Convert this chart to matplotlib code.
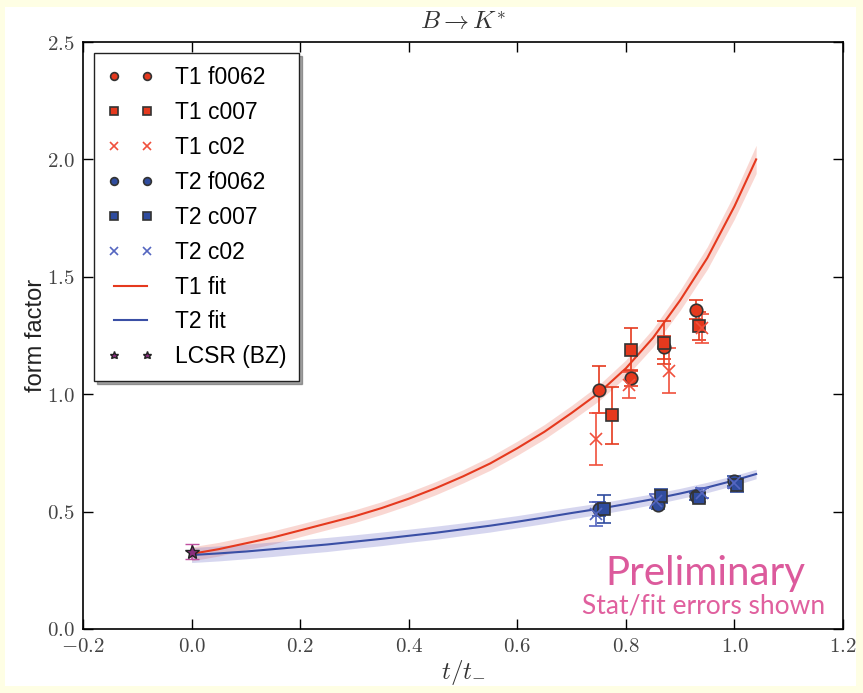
import matplotlib
matplotlib.use('Agg')
import matplotlib.pyplot as plt
import numpy as np
from matplotlib.ticker import FuncFormatter
from matplotlib.patches import Rectangle

plt.rcParams['mathtext.fontset'] = 'cm'
plt.rcParams['font.family'] = ['Liberation Sans', 'DejaVu Sans']

# fit curves
fit_x = [0.0, 0.05, 0.1, 0.15, 0.2, 0.25, 0.3, 0.35, 0.4, 0.45, 0.5, 0.55,
         0.6, 0.65, 0.7, 0.75, 0.8, 0.85, 0.9, 0.95, 1.0, 1.04]
t1_fit = [0.32, 0.34, 0.365, 0.39, 0.42, 0.45, 0.48, 0.515, 0.555, 0.60, 0.65, 0.705,
          0.77, 0.84, 0.92, 1.005, 1.11, 1.24, 1.40, 1.58, 1.80, 2.00]
t1_band = [0.03, 0.029, 0.028, 0.028, 0.027, 0.027, 0.027, 0.027, 0.028, 0.028, 0.028, 0.029,
           0.03, 0.031, 0.032, 0.034, 0.036, 0.039, 0.043, 0.048, 0.054, 0.06]
t2_fit = [0.315, 0.322, 0.33, 0.34, 0.35, 0.36, 0.372, 0.384, 0.397, 0.41, 0.425, 0.44,
          0.457, 0.475, 0.494, 0.512, 0.532, 0.553, 0.577, 0.603, 0.633, 0.66]
t2_band = [0.032, 0.032, 0.031, 0.031, 0.03, 0.03, 0.029, 0.029, 0.028, 0.028, 0.027, 0.027,
           0.026, 0.026, 0.025, 0.024, 0.024, 0.023, 0.022, 0.022, 0.021, 0.02]

# T1 data
t1_f_x = [0.75, 0.81, 0.87, 0.93]
t1_f_y = [1.02, 1.07, 1.20, 1.36]
t1_f_e = [0.10, 0.035, 0.05, 0.04]
t1_c7_x = [0.775, 0.81, 0.87, 0.935]
t1_c7_y = [0.91, 1.19, 1.22, 1.29]
t1_c7_e = [0.12, 0.09, 0.09, 0.06]
t1_c2_x = [0.745, 0.805, 0.88, 0.94]
t1_c2_y = [0.81, 1.04, 1.10, 1.28]
t1_c2_e = [0.11, 0.055, 0.095, 0.06]

# T2 data
t2_f_x = [0.75, 0.86, 0.93, 1.0]
t2_f_y = [0.51, 0.53, 0.565, 0.63]
t2_f_e = [0.03, 0.02, 0.015, 0.02]
t2_c7_x = [0.76, 0.865, 0.935, 1.005]
t2_c7_y = [0.51, 0.565, 0.56, 0.615]
t2_c7_e = [0.06, 0.03, 0.02, 0.03]
t2_c2_x = [0.745, 0.855, 0.94, 1.0]
t2_c2_y = [0.49, 0.545, 0.58, 0.62]
t2_c2_e = [0.05, 0.03, 0.02, 0.02]

# LCSR
lcsr_x = [0.0]
lcsr_y = [0.33]
lcsr_e = [0.03]

red = '#E5391E'
red_light = '#F0503C'
blue = '#2F4C9E'
blue_light = '#5566C0'

fig = plt.figure(figsize=(8.63, 6.93), dpi=100, facecolor='#FEFEE4')
fig.patches.append(Rectangle((5 / 863, 7 / 693), 851 / 863, 679 / 693, transform=fig.transFigure,
                             facecolor='white', edgecolor='none', zorder=-10))
ax = fig.add_axes([83 / 863, 64 / 693, 760 / 863, 587 / 693])

fx = np.array(fit_x)
ax.fill_between(fx, np.array(t1_fit) - t1_band, np.array(t1_fit) + t1_band, color=red, alpha=0.2, lw=0)
ax.fill_between(fx, np.array(t2_fit) - t2_band, np.array(t2_fit) + t2_band, color='#6E6EC8', alpha=0.28, lw=0)
l_t1, = ax.plot(fx, t1_fit, color=red, lw=1.5, label='T1 fit')
l_t2, = ax.plot(fx, t2_fit, color='#3A4FA5', lw=1.5, label='T2 fit')

def series(x, y, e, marker, color, label, ms=9, mec='#333333'):
    c = ax.errorbar(x, y, yerr=e, fmt=marker, color=color, ecolor=color, ms=ms,
                    mec=mec, mew=1.2, capsize=5, elinewidth=1.2, capthick=1.2, zorder=3)
    c[0].set_label(label)
    return c[0]

h = []
h.append(series(t1_f_x, t1_f_y, t1_f_e, 'o', red, 'T1 f0062'))
h.append(series(t1_c7_x, t1_c7_y, t1_c7_e, 's', red, 'T1 c007'))
h.append(series(t1_c2_x, t1_c2_y, t1_c2_e, 'x', red_light, 'T1 c02', mec=red_light))
h.append(series(t2_f_x, t2_f_y, t2_f_e, 'o', blue, 'T2 f0062'))
h.append(series(t2_c7_x, t2_c7_y, t2_c7_e, 's', blue, 'T2 c007'))
h.append(series(t2_c2_x, t2_c2_y, t2_c2_e, 'x', blue_light, 'T2 c02', mec=blue_light))
h.append(l_t1)
h.append(l_t2)
lc = ax.errorbar(lcsr_x, lcsr_y, yerr=lcsr_e, fmt='*', color='#8A2C7E', ecolor='#C050A0', ms=10,
                 mec='#222222', mew=1.0, capsize=5, elinewidth=1.2, capthick=1.2, zorder=4)
lc[0].set_label('LCSR (BZ)')
h.append(lc[0])

leg = ax.legend(handles=h, loc='upper left', numpoints=2, markerscale=0.62, fontsize=16.5,
                labelspacing=0.52, handlelength=2.05, handletextpad=0.9, borderpad=0.55,
                borderaxespad=0.5, fancybox=False, shadow=True,
                edgecolor='#222222', framealpha=1)
leg.get_frame().set_linewidth(1.0)

ax.set_xlim(-0.2, 1.2)
ax.set_ylim(0.0, 2.5)
ax.set_xticks(np.arange(-0.2, 1.21, 0.2))
ax.set_yticks(np.arange(0.0, 2.51, 0.5))
fmt = FuncFormatter(lambda v, p: '$%.1f$' % v)
ax.xaxis.set_major_formatter(fmt)
ax.yaxis.set_major_formatter(fmt)
ax.tick_params(direction='in', top=True, right=True, length=7, width=1, labelsize=15,
               labelcolor='#444444', pad=6)
for s in ax.spines.values():
    s.set_linewidth(1.2)

ax.set_title(r'$B \rightarrow K^{*}$', fontsize=18, pad=9, color='#333333')
ax.set_xlabel(r'$t/t_{-}$', fontsize=18, color='#333333', labelpad=1)
ax.set_ylabel('form factor', fontsize=17, color='#222222', labelpad=0)

ax.text(0.947, 0.187, 'Preliminary', fontsize=29, color='#DC5A9C',
        ha='center', va='baseline', family=['Lato', 'DejaVu Sans'])
ax.text(1.167, 0.068, 'Stat/fit errors shown', fontsize=19, color='#E0609E',
        ha='right', va='baseline', family=['Lato', 'DejaVu Sans'])

fig.savefig('out.png', dpi=100, facecolor=fig.get_facecolor())
